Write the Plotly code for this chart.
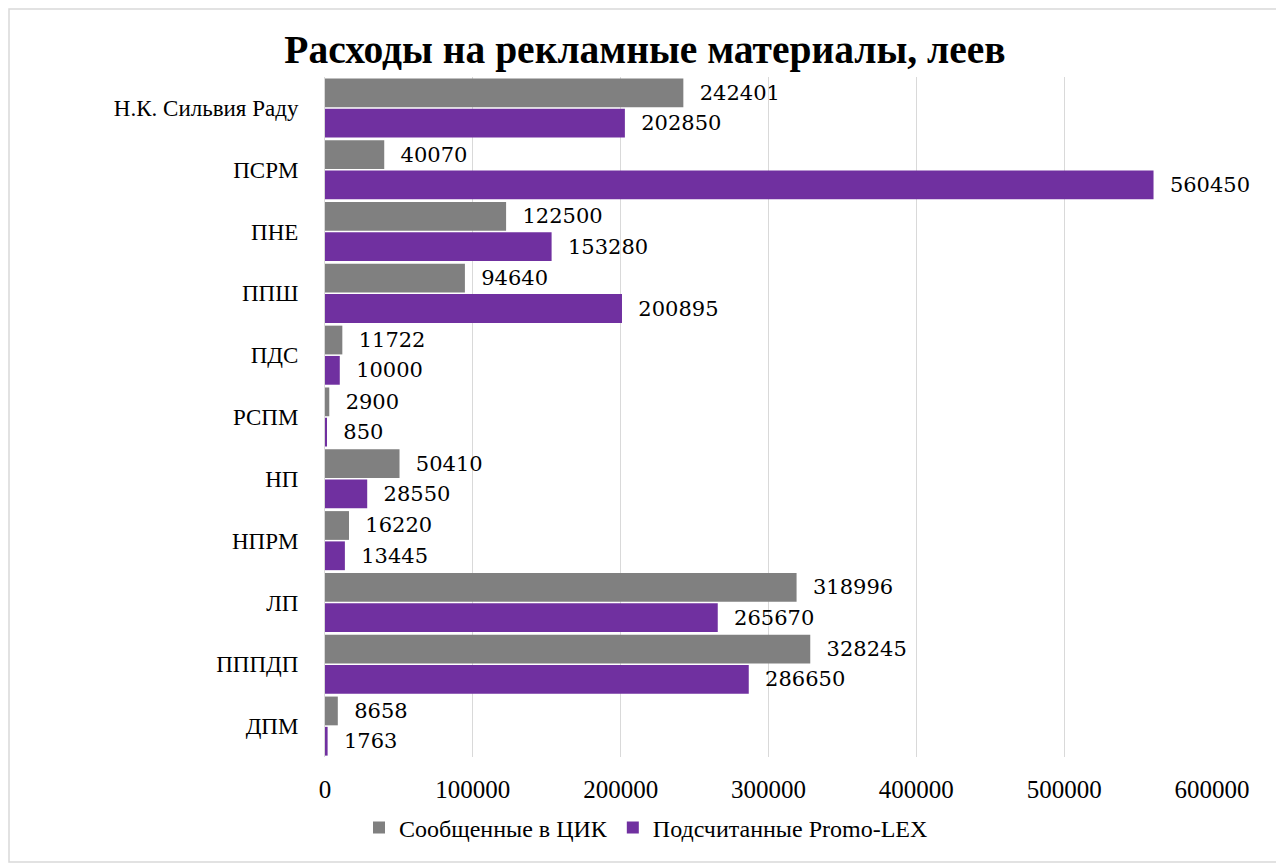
import plotly.graph_objects as go

categories = ["Н.К. Сильвия Раду", "ПСРМ", "ПНЕ", "ППШ", "ПДС", "РСПМ", "НП", "НПРМ", "ЛП", "ПППДП", "ДПМ"]
reported_cec = [242401, 40070, 122500, 94640, 11722, 2900, 50410, 16220, 318996, 328245, 8658]
counted_promolex = [202850, 560450, 153280, 200895, 10000, 850, 28550, 13445, 265670, 286650, 1763]
series_names = ["Сообщенные в ЦИК", "Подсчитанные Promo-LEX"]
x_ticks = [0, 100000, 200000, 300000, 400000, 500000, 600000]

FONT = "Liberation Serif"
VFONT = "DejaVu Serif"

# figure is placed at (8, 8) in the page because of the default body margin
FW, FH = 1276, 860
OFF = 8

fig = go.Figure()
fig.add_trace(go.Bar(
    y=categories, x=reported_cec, orientation="h", name=series_names[0],
    marker=dict(color="#808080", line=dict(width=0)),
    text=[str(v) for v in reported_cec], texttemplate="  %{text}", textposition="outside",
    textfont=dict(family=VFONT, size=21, color="black"), cliponaxis=False,
))
fig.add_trace(go.Bar(
    y=categories, x=counted_promolex, orientation="h", name=series_names[1],
    marker=dict(color="#7030A0", line=dict(width=0)),
    text=[str(v) for v in counted_promolex], texttemplate="  %{text}", textposition="outside",
    textfont=dict(family=VFONT, size=21, color="black"), cliponaxis=False,
))

L, R, T, B = 325 - OFF, 1212 - OFF, 77 - OFF, 757 - OFF
W, H = R - L, B - T

def px_x(p):
    return (p - OFF - L) / W

def px_y(p):
    return (B - (p - OFF)) / H

fig.update_layout(
    width=FW, height=FH,
    margin=dict(l=L, r=FW - R, t=T, b=FH - B),
    paper_bgcolor="white", plot_bgcolor="white",
    barmode="group", bargap=0.02, bargroupgap=0.05,
    font=dict(family=FONT, size=20, color="black"),
    title=dict(text="<b>Расходы на рекламные материалы, леев</b>",
               font=dict(family=FONT, size=39.5, color="black"),
               x=(645 - OFF) / FW, xanchor="center", y=1 - (49 - OFF) / FH, yanchor="middle",
               xref="container", yref="container"),
    showlegend=True,
    legend=dict(orientation="h", x=px_x(646), xanchor="center", y=px_y(828), yanchor="middle",
                font=dict(family=FONT, size=24), itemsizing="constant",
                traceorder="normal", itemwidth=30),
)
fig.update_xaxes(range=[0, 600000], tickvals=x_ticks, ticktext=[str(v) for v in x_ticks],
                 showgrid=True, gridcolor="#d9d9d9", gridwidth=1, zeroline=False,
                 showline=False, ticklabelstandoff=15, tickfont=dict(size=25))
fig.update_yaxes(autorange="reversed", showgrid=False, showline=True, linecolor="#d9d9d9",
                 ticklabelstandoff=21, tickfont=dict(size=23))

fig.add_shape(type="rect", xref="paper", yref="paper",
              x0=px_x(9), x1=px_x(1281), y0=px_y(862), y1=px_y(9),
              line=dict(color="#d9d9d9", width=1.5), fillcolor="rgba(0,0,0,0)", layer="below")

fig.write_html("out.html")
